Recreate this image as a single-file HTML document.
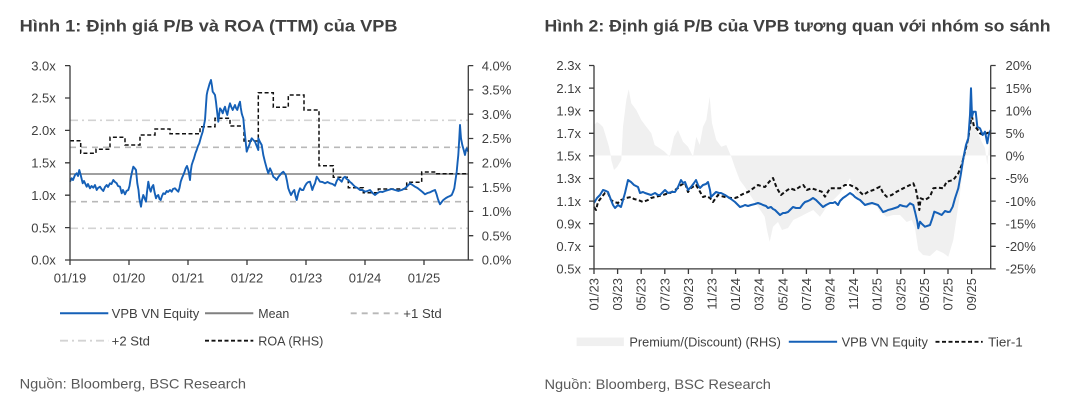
<!DOCTYPE html>
<html><head><meta charset="utf-8"><style>
html,body{margin:0;padding:0;background:#fff;}
svg{display:block;font-family:"Liberation Sans",sans-serif;}
.t{font-size:13px;fill:#404040;}
.ttl{font-size:17px;font-weight:bold;fill:#404040;}
.src{font-size:14px;fill:#595959;}
</style></head><body>
<svg width="1071" height="405" viewBox="0 0 1071 405" xmlns="http://www.w3.org/2000/svg">
<rect width="1071" height="405" fill="#fff"/>
<!-- Titles -->
<text class="ttl" x="19.6" y="31.3" textLength="378" lengthAdjust="spacingAndGlyphs">Hình 1: Định giá P/B và ROA (TTM) của VPB</text>
<text class="ttl" x="544.5" y="31.3" textLength="506" lengthAdjust="spacingAndGlyphs">Hình 2: Định giá P/B của VPB tương quan với nhóm so sánh</text>

<!-- ===== LEFT CHART ===== -->
<!-- std lines -->
<line x1="70" y1="120.3" x2="468.3" y2="120.3" stroke="#d3d3d3" stroke-width="1.6" stroke-dasharray="8,4,2,4"/>
<line x1="70" y1="228.3" x2="468.3" y2="228.3" stroke="#d3d3d3" stroke-width="1.6" stroke-dasharray="8,4,2,4"/>
<line x1="70" y1="147.3" x2="468.3" y2="147.3" stroke="#b8b8b8" stroke-width="1.6" stroke-dasharray="6,5"/>
<line x1="70" y1="201.7" x2="468.3" y2="201.7" stroke="#b8b8b8" stroke-width="1.6" stroke-dasharray="6,5"/>
<line x1="70" y1="174" x2="468.3" y2="174" stroke="#808080" stroke-width="1.6"/>
<!-- ROA -->
<path d="M70,140.7 H80.7 V153.3 H96 V149.3 H110 V137.3 H125 V145 H140 V135 H155 V129 H170 V133.7 H200 V126.7 H215 V118.3 H230 V126 H244 V141 H258.3 V92.7 H273.3 V107.3 H288.3 V95 H304 V110 H319 V165.7 H333.3 V177.3 H348.3 V187.7 H363.3 V192.7 H378.3 V189 H406.7 V182.3 H421.7 V172 H436.7 V173.7 H468.3" fill="none" stroke="#111" stroke-width="1.5" stroke-dasharray="4,2.5"/>
<!-- P/B -->
<polyline fill="none" stroke="#1560b7" stroke-width="1.9" stroke-linejoin="round" points="70,181.7 71.7,178.3 73,180 75,175 76.7,173.3 78,176 79.3,170 80.7,175 82.7,183.3 84,181 86.7,186.7 88,184 90,188.3 91.5,186 93.3,187.7 95,185 96.7,190 98,188 100,186.7 101.5,189 103.3,191 105,187 106.7,185 108,187 110,183.3 111.5,184 113.3,180 115,182 116.7,183.3 118,186 120,186.7 121.7,193.3 123,190 125,194.3 126.5,191 128.3,190 129.5,186 130.7,178.3 132,172 133.3,166.7 134.5,168 136,170 137.3,183.3 138.5,190 139.3,198.3 141,206.7 142,200 143.3,195 144.5,198 146,201.7 147,192 148.3,181.7 149.5,188 150.7,191.7 152,187 153.3,185 154.5,192 156,198.3 157,196 158.3,195 159.5,199 160.7,200 162,196 163.3,193.3 165,194 166.7,191 168,192 170,190 171.7,191.7 173,189 175,188.3 176.5,190 178.3,191.7 179.5,188 180.7,181.7 182,178 183.3,175 184.5,172 185.7,168.3 187,166 188.3,170 189.2,175 190,180 190.8,171 191.7,165 193,161 194,158.3 195.5,153 196.7,150 198,146 199.3,143.3 201,137 202.7,131.7 204,125 205,120 206,105 206.7,95 207.5,91 208.3,88.3 209.5,84 211,80 212,86 212.7,91.7 213.7,93 215,95 216,102 216.7,108.3 217.5,115 218.3,121.7 219.2,114 220,108.3 221.3,110 222.7,113.3 224,109 225,106.7 226,111 227.3,115 228.7,108 230,103.3 231.3,107 232.7,110 234,107 235,105 236,108 237.3,110 238.7,105 240,101.7 240.8,108 241.7,113.3 242.5,116 243.3,118.3 244,126 245,135 246,145 246.7,151.7 248,148 249.3,145 250.5,141 251.7,138.3 253.3,140 255,141.7 256.7,146 258.3,150 258.3,138.3 260,142 261.7,145 262.5,150 263.3,155 265,162 266.7,168.3 268.3,173.3 270,168.3 271.7,172 273.3,176.7 275,178 276.7,180 278.3,177 280,175 281.7,173 283.3,171.7 285.7,175 287,181 288.3,188.3 289.7,192 291,195 292.7,192 294.3,190 295.5,196 296.7,200 298.3,193 300,188.3 301.7,190 303.3,190 305,186 306.7,183.3 308.3,182 310,181.7 311.2,186 312.3,190 313.7,186 315,183.3 316.7,176.7 318.3,179 320,181.7 322.5,182 325,183.3 327.5,182 330,183.3 332.5,184 335,185.7 336.7,181 338.3,178.3 340,180 341.7,181.7 343.3,178 345,176.7 346.7,179 348.3,180 350,182 351.7,183.3 353.3,185 355,186.7 357.5,188 360,190 362.5,190 365,191.7 367.5,191 370,190 372.5,193 375,195 377.5,193 380,191.7 382.5,192 385,191 388.3,190 391.7,189 395,190 398.3,191 401.7,190 405,188.3 407.5,186 410,183.3 412.5,185 415,186.7 417.5,188 420,190 422.5,192 425,194.3 427.5,193 430,192.3 432.5,191 435,190 436.5,194 437.7,198.3 439,202 440,204.3 441.7,202 443.3,200 446,198 448.3,196.7 450,196 451.7,195 453,192 454.3,188.3 455.5,180 456.7,171.7 457.5,163 458.3,155 459.2,140 460,125 460.5,132 461,138.3 462.3,145 463.7,150 465,155 466,150 466.7,148.3 467.5,150 468.3,151.7"/>
<!-- axes -->
<g stroke="#3a3a3a" stroke-width="1.3" fill="none">
<line x1="70" y1="65.6" x2="70" y2="260"/>
<line x1="468.3" y1="65.6" x2="468.3" y2="260"/>
<line x1="65" y1="260" x2="473.3" y2="260"/>
<path d="M65,65.6H70M65,98H70M65,130.4H70M65,162.8H70M65,195.2H70M65,227.6H70"/>
<path d="M468.3,65.6H473.3M468.3,89.9H473.3M468.3,114.2H473.3M468.3,138.5H473.3M468.3,162.8H473.3M468.3,187.1H473.3M468.3,211.4H473.3M468.3,235.7H473.3"/>
<path d="M70,260V265M129,260V265M188,260V265M247,260V265M306,260V265M365,260V265M424,260V265"/>
</g>
<g class="t" text-anchor="end">
<text x="55.8" y="70.3">3.0x</text><text x="55.8" y="102.7">2.5x</text><text x="55.8" y="135.1">2.0x</text><text x="55.8" y="167.5">1.5x</text><text x="55.8" y="199.9">1.0x</text><text x="55.8" y="232.3">0.5x</text><text x="55.8" y="264.7">0.0x</text>
</g>
<g class="t">
<text x="481.7" y="70.3">4.0%</text><text x="481.7" y="94.6">3.5%</text><text x="481.7" y="118.9">3.0%</text><text x="481.7" y="143.2">2.5%</text><text x="481.7" y="167.5">2.0%</text><text x="481.7" y="191.8">1.5%</text><text x="481.7" y="216.1">1.0%</text><text x="481.7" y="240.4">0.5%</text><text x="481.7" y="264.7">0.0%</text>
</g>
<g class="t" text-anchor="middle">
<text x="70" y="282.5">01/19</text><text x="129" y="282.5">01/20</text><text x="188" y="282.5">01/21</text><text x="247" y="282.5">01/22</text><text x="306" y="282.5">01/23</text><text x="365" y="282.5">01/24</text><text x="424" y="282.5">01/25</text>
</g>
<!-- left legend -->
<line x1="60" y1="313.3" x2="108.3" y2="313.3" stroke="#1560b7" stroke-width="2"/>
<text class="t" x="111.7" y="318" textLength="87.6" lengthAdjust="spacingAndGlyphs">VPB VN Equity</text>
<line x1="205" y1="313.3" x2="253.3" y2="313.3" stroke="#808080" stroke-width="2"/>
<text class="t" x="258.3" y="318" textLength="31" lengthAdjust="spacingAndGlyphs">Mean</text>
<line x1="350.7" y1="313.3" x2="398.3" y2="313.3" stroke="#b8b8b8" stroke-width="1.8" stroke-dasharray="6,5"/>
<text class="t" x="403.3" y="318" textLength="38.4" lengthAdjust="spacingAndGlyphs">+1 Std</text>
<line x1="60" y1="340.7" x2="108.3" y2="340.7" stroke="#d3d3d3" stroke-width="1.8" stroke-dasharray="8,4,2,4"/>
<text class="t" x="111.7" y="345.4" textLength="38.3" lengthAdjust="spacingAndGlyphs">+2 Std</text>
<line x1="205" y1="340.7" x2="253.3" y2="340.7" stroke="#111" stroke-width="1.8" stroke-dasharray="4,2.5"/>
<text class="t" x="258.3" y="345.4" textLength="65" lengthAdjust="spacingAndGlyphs">ROA (RHS)</text>
<text class="src" x="19.6" y="388.5" textLength="226.4" lengthAdjust="spacingAndGlyphs">Nguồn: Bloomberg, BSC Research</text>

<!-- ===== RIGHT CHART ===== -->
<polygon fill="#f0f0f0" points="594,155.5 594,125 597,122 600,124 603,127 606,136.7 609,146.7 611,156.7 611.3,160 614,170 617.3,166.7 621.3,160 623,126.7 626.3,100 628.7,89.3 631.3,103.3 636.3,110 641.3,120 646.3,126.7 651.3,133.3 654.7,145 659.7,148.3 664.7,151.7 669.7,156.7 674,136.7 678,130 683,141.7 688,146.7 693,156.7 696.3,136.7 699.7,145 703,126.7 706.3,120 709.7,96.7 712,123.3 716.3,140 721.3,146.7 726.3,145 731.3,156.7 734.7,166.7 739.7,180 744.7,186.7 751.3,196.7 758,206.7 764.7,216.7 767,230 769.7,241.7 773,226.7 778,222 782,230 788,228 793.3,220 800,216.7 806.7,213.3 813.3,210 820,216.7 826.7,206.7 833.3,200 840,193.3 846.7,183.3 850,178.3 855,193.3 861.7,203.3 868.3,206.7 875,203.3 880,211.7 886.7,216.7 893.3,215 900,215 906.7,222 911.7,220 915,228 918.3,250 923,255 930,256 936.7,250 943.3,253 948.3,256.7 953.3,240 956.7,216.7 960,193.3 962.7,170 965,158 966,155.5 966.7,141.7 968.5,128 970.7,115 971.7,98.3 974,121.7 976.7,130 981.7,141.7 985,148 987.3,165 989.3,141.7 990.7,138 990.7,155.5"/>
<!-- tier-1 -->
<polyline fill="none" stroke="#111" stroke-width="2" stroke-dasharray="4,2.5" stroke-linejoin="round" points="594,207 596,210 598,202 601,198 605,193 608,193 611,200 614,202 618,203 621,200 626,198 631,197 634,199 638,200 643,202 648,200 651,198 655,197 659,196 663,195 666,194 670,193 675,190 678,188 681,185 685,183 688,192 691,188 696,185 699,190 703,197 706,196 710,198 713,202 718,195 721,196 725,197 731,198 735,198 738,197 741,195 745,193 748,192 751,190 755,187 758,185 761,186 765,187 769,182 773,178 776,186 778,190 781,195 785,191.7 790,188.3 795,190 800,186.7 803.3,185 806.7,190 811.7,188.3 816.7,190 821.7,191.7 825,196.7 830,188.3 835,188.3 840,188.3 845,185 850,185 856.7,188.3 860,192 863.3,195 868.3,191.7 873.3,190 880,186.7 883.3,193.3 886.7,196.7 891.7,195 896.7,191.7 903.3,188.3 910,185 913.3,183.3 916,190 918.3,201.7 919.3,210 920.7,198.3 925,200 930,196.7 933.3,188.3 938.3,187.7 943.3,188.3 946.7,181.7 953.3,180 958.3,173.3 961.7,165 965,151.7 968.3,138.3 970.7,121.7 972,116.7 974,126.7 976.7,128.3 980,133.3 983.3,135 986.7,133.3 990.7,131.7"/>
<!-- VPB -->
<polyline fill="none" stroke="#1560b7" stroke-width="2" stroke-linejoin="round" points="594,203 597,198 600,195 603,190 606,191 608,192 611,200 613,205 615,208 618,205 621,207 623,200 625,193 628,180 631,182 634,185 638,187 640,193 643,192 645,193 648,194 651,195 655,193 658,195 660,195 663,192 665,190 668,193 672,192 675,192 678,187 681,180 683,183 685,182 688,190 691,187 694,183 696,180 698,185 700,188 703,185 706,184 708,182 710,190 711,197 714,194 716,192 719,193 721,193 725,195 728,197 731,199 735,202 738,205 740,207 743,206 745,205 748,206 751,205 755,204 758,203 761,204 763,205 766,206 768,208 771,207 773,209 775,210 778,213 780,215 783,213 785,213 788,212 790,210 793,207 796,208 800,208 803,204 805,202 808,201 810,200 813,198 816,200 818,202 821,205 823,207 826,205 830,203 833,203 835,202 838,205 840,201 843,198 846,196 850,193 853,195 855,197 858,199 860,200 863,203 865,205 868,204 872,203 875,204 878,205 881,209 883,212 886,211 888,210 892,209 895,208 898,207 900,205 903,206 906.7,206.7 910,203.3 913.3,205 915,211.7 917.3,221.7 918.3,228.3 920,221.7 922,224 925,226.7 930,225 932.3,218.3 934.3,211.7 938.3,213.3 941.7,215 945,211 948,212 950,211.7 952.7,206.7 955,198.3 958.3,188.3 960.7,175 963.3,158.3 966,145 968.3,138.3 970,115 971,88.3 972,116.7 973.3,111.7 975.7,111.7 977.3,126.7 980,128.3 982.7,135 985,131.7 987.3,143.3 988.7,135 990.7,130"/>
<!-- axes -->
<g stroke="#3a3a3a" stroke-width="1.3" fill="none">
<line x1="594" y1="65.5" x2="594" y2="268.9"/>
<line x1="990.7" y1="65.5" x2="990.7" y2="268.9"/>
<line x1="589" y1="268.9" x2="995.7" y2="268.9"/>
<path d="M589,65.5H594M589,88.1H594M589,110.7H594M589,133.3H594M589,155.9H594M589,178.5H594M589,201.1H594M589,223.7H594M589,246.3H594"/>
<path d="M990.7,65.5H995.7M990.7,88.1H995.7M990.7,110.7H995.7M990.7,133.3H995.7M990.7,155.9H995.7M990.7,178.5H995.7M990.7,201.1H995.7M990.7,223.7H995.7M990.7,246.3H995.7"/>
<path d="M594,268.9V274M617.6,268.9V274M641.2,268.9V274M664.8,268.9V274M688.4,268.9V274M712,268.9V274M735.6,268.9V274M759.2,268.9V274M782.8,268.9V274M806.4,268.9V274M830,268.9V274M853.6,268.9V274M877.2,268.9V274M900.8,268.9V274M924.4,268.9V274M948,268.9V274M971.6,268.9V274"/>
</g>
<g class="t" text-anchor="end">
<text x="581" y="70.2">2.3x</text><text x="581" y="92.8">2.1x</text><text x="581" y="115.4">1.9x</text><text x="581" y="138">1.7x</text><text x="581" y="160.6">1.5x</text><text x="581" y="183.2">1.3x</text><text x="581" y="205.8">1.1x</text><text x="581" y="228.4">0.9x</text><text x="581" y="251">0.7x</text><text x="581" y="273.6">0.5x</text>
</g>
<g class="t">
<text x="1005.5" y="70.2">20%</text><text x="1005.5" y="92.8">15%</text><text x="1005.5" y="115.4">10%</text><text x="1005.5" y="138">5%</text><text x="1005.5" y="160.6">0%</text><text x="1005.5" y="183.2">-5%</text><text x="1005.5" y="205.8">-10%</text><text x="1005.5" y="228.4">-15%</text><text x="1005.5" y="251">-20%</text><text x="1005.5" y="273.6">-25%</text>
</g>
<g class="t" text-anchor="end" dominant-baseline="central">
<text transform="translate(594,278) rotate(-90)">01/23</text>
<text transform="translate(617.6,278) rotate(-90)">03/23</text>
<text transform="translate(641.2,278) rotate(-90)">05/23</text>
<text transform="translate(664.8,278) rotate(-90)">07/23</text>
<text transform="translate(688.4,278) rotate(-90)">09/23</text>
<text transform="translate(712,278) rotate(-90)">11/23</text>
<text transform="translate(735.6,278) rotate(-90)">01/24</text>
<text transform="translate(759.2,278) rotate(-90)">03/24</text>
<text transform="translate(782.8,278) rotate(-90)">05/24</text>
<text transform="translate(806.4,278) rotate(-90)">07/24</text>
<text transform="translate(830,278) rotate(-90)">09/24</text>
<text transform="translate(853.6,278) rotate(-90)">11/24</text>
<text transform="translate(877.2,278) rotate(-90)">01/25</text>
<text transform="translate(900.8,278) rotate(-90)">03/25</text>
<text transform="translate(924.4,278) rotate(-90)">05/25</text>
<text transform="translate(948,278) rotate(-90)">07/25</text>
<text transform="translate(971.6,278) rotate(-90)">09/25</text>
</g>
<!-- right legend -->
<rect x="576.6" y="337.5" width="47.3" height="8.6" fill="#f0f0f0"/>
<text class="t" x="629.4" y="346.5" textLength="151.5" lengthAdjust="spacingAndGlyphs">Premium/(Discount) (RHS)</text>
<line x1="788.8" y1="341.8" x2="837.1" y2="341.8" stroke="#1560b7" stroke-width="2"/>
<text class="t" x="841.6" y="346.5" textLength="86.3" lengthAdjust="spacingAndGlyphs">VPB VN Equity</text>
<line x1="935.5" y1="341.8" x2="982.7" y2="341.8" stroke="#111" stroke-width="1.8" stroke-dasharray="4,2.5"/>
<text class="t" x="988.2" y="346.5" textLength="34.6" lengthAdjust="spacingAndGlyphs">Tier-1</text>
<text class="src" x="544.5" y="389" textLength="226.4" lengthAdjust="spacingAndGlyphs">Nguồn: Bloomberg, BSC Research</text>
</svg>
</body></html>
